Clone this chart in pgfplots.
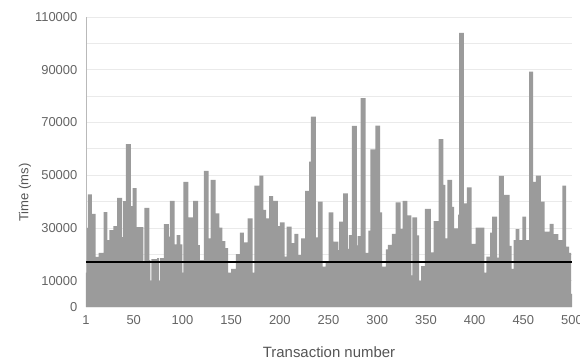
\documentclass[border=0pt]{standalone}
\usepackage{fontspec}
\setmainfont{Liberation Sans}
\usepackage{pgfplots}
\pgfplotsset{compat=1.18}
\definecolor{barc}{RGB}{155,155,155}
\definecolor{gridc}{RGB}{234,234,234}
\definecolor{txt}{RGB}{85,85,85}
\definecolor{tickc}{RGB}{100,100,100}
\begin{document}
\begin{tikzpicture}
\path[use as bounding box] (-64.5pt,-42pt) rectangle (370.5pt,230.25pt);
\begin{axis}[
  at={(0,0)}, anchor=south west,
  scale only axis, width=364.5pt, height=217.5pt,
  xmin=1, xmax=500, ymin=0, ymax=110000,
  scaled y ticks=false, scaled x ticks=false,
  separate axis lines,
  axis x line*=bottom, axis y line*=left,
  x axis line style={draw=none},
  y axis line style={draw=gray!55, line width=0.5pt},
  tick style={draw=none},
  ytick={0,10000,20000,30000,40000,50000,60000,70000,80000,90000,100000,110000},
  yticklabels={0,10000,,30000,,50000,,70000,,90000,,110000},
  xtick={1,50,100,150,200,250,300,350,400,450,500},
  xticklabels={1,50,100,150,200,250,300,350,400,450,500},
  ymajorgrids, grid style={draw=gridc, line width=0.6pt},
  yticklabel style={font=\fontsize{9.7}{11}\selectfont, text=tickc, xshift=-3pt},
  xticklabel style={font=\fontsize{9.7}{11}\selectfont, text=tickc, yshift=-3pt},
  xlabel={Transaction number},
  xlabel style={at={(axis description cs:0.5,-0.155)}, anchor=center, font=\fontsize{11.2}{13}\selectfont, text=txt},
  ylabel={Time (ms)},
  ylabel style={at={(axis description cs:-0.1255,0.395)}, anchor=center, font=\fontsize{9.8}{12}\selectfont, text=txt},
]
\addplot[fill=barc, draw=none, const plot] coordinates {
(1,13000) (2,30000) (3,42700) (7,35300) (11,19000) (14,20500) (19,36000) (23,25400)
(25,29200) (29,30700) (33,41400) (38,26500) (39,40200) (42,61800) (47,38300) (49,45100)
(53,30300) (60,16700) (61,37600) (66,17800) (67,10000) (68,18200) (74,18500) (76,10000)
(77,18500) (81,31400) (86,26700) (87,40300) (92,23800) (94,27300) (98,23800) (100,13000)
(101,47500) (106,34000) (111,40300) (116,23500) (118,17800) (122,51600) (127,26000) (129,48200)
(134,35500) (138,30100) (141,25000) (144,22300) (147,13000) (150,14500) (155,20100) (159,28200)
(163,24500) (167,33600) (172,13000) (174,46000) (179,49800) (183,36800) (186,33600) (189,42100)
(193,40300) (198,30700) (200,32100) (205,19100) (207,30500) (212,24200) (215,27700) (219,19700)
(222,26000) (226,44000) (230,55100) (232,72200) (237,26400) (239,40000) (244,15300) (247,17000)
(250,35900) (255,24800) (260,21600) (261,32400) (265,43100) (270,22000) (271,27300) (274,68700)
(279,23400) (280,26900) (283,79200) (288,20500) (291,29000) (293,59800) (298,68800) (303,35900)
(305,15300) (309,21900) (311,23600) (315,27700) (319,39700) (324,29600) (326,40300) (331,34800)
(335,12000) (336,34000) (341,27200) (343,10000) (345,15500) (349,37200) (355,20700) (358,32600)
(363,63700) (368,46300) (370,26000) (372,48200) (377,38000) (379,29800) (383,35000) (384,104000)
(389,39300) (392,45400) (397,23900) (401,30100) (410,13000) (412,19100) (416,28200) (418,34300)
(423,18700) (425,49700) (430,42500) (436,23200) (438,14500) (440,25400) (442,29500) (446,25400)
(449,34300) (453,25400) (456,89300) (460,47500) (463,49800) (468,40000) (472,28600) (477,31500)
(481,27600) (486,25400) (490,46000) (494,22900) (497,20500) (499,5000) (500,5000)
} \closedcycle;
\addplot[black, line width=1.5pt] coordinates {(1,17000) (500,17000)};
\end{axis}
\end{tikzpicture}
\end{document}
